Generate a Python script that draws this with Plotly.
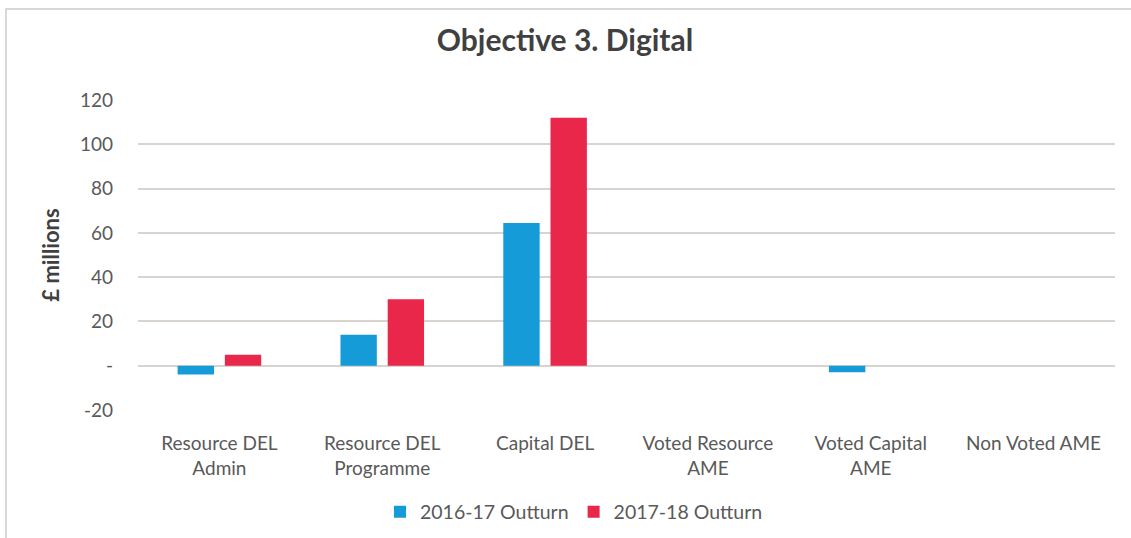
import plotly.graph_objects as go

# Spending categories and outturn values (£ millions)
categories = [
    "Resource DEL<br>Admin",
    "Resource DEL<br>Programme",
    "Capital DEL",
    "Voted Resource<br>AME",
    "Voted Capital<br>AME",
    "Non Voted AME",
]
outturn_2016_17 = [-4, 14, 64.5, 0, -3, 0]
outturn_2017_18 = [5, 30, 112, 0, 0, 0]
series_names = ["2016-17 Outturn", "2017-18 Outturn"]
tick_values = [-20, 0, 20, 40, 60, 80, 100, 120]
tick_labels = ["-20", "-", "20", "40", "60", "80", "100", "120"]

W, H = 1131, 538
L, R, T, B = 138, 16, 100, 128
FONT = "Lato, 'Open Sans', sans-serif"
GRID = "#d9d4d0"
TEXT = "#595959"

fig = go.Figure()
fig.add_trace(go.Bar(x=categories, y=outturn_2016_17, name=series_names[0],
                     marker=dict(color="#159bd7", line=dict(width=0))))
fig.add_trace(go.Bar(x=categories, y=outturn_2017_18, name=series_names[1],
                     marker=dict(color="#e8274b", line=dict(width=0))))

# outer chart border (left and top edges visible)
pw, ph = W - L - R, H - T - B
def px_x(v):
    return (v - L) / pw
def px_y(v):
    return (H - B - v) / ph

fig.add_shape(type="rect", xref="paper", yref="paper",
              x0=px_x(6), x1=px_x(1140), y0=px_y(545), y1=px_y(9),
              line=dict(color="#cfcac6", width=1.5), fillcolor="rgba(0,0,0,0)",
              layer="below")

fig.update_layout(
    width=W, height=H,
    margin=dict(l=L, r=R, t=T, b=B, autoexpand=False),
    paper_bgcolor="white", plot_bgcolor="white",
    barmode="group", bargap=0.42, bargroupgap=0.23,
    title=dict(text="<b>Objective 3. Digital</b>", x=565 / W, xanchor="center",
               y=1 - 40 / H, yanchor="middle",
               font=dict(family=FONT, size=30, color="#404040")),
    font=dict(family=FONT, color=TEXT),
    showlegend=True,
    legend=dict(orientation="h", x=px_x(574), xanchor="center",
                y=px_y(512), yanchor="middle",
                font=dict(family=FONT, size=19.5, color=TEXT),
                itemwidth=30, traceorder="normal"),
    xaxis=dict(showgrid=False, showline=False, ticks="", ticklabelstandoff=20,
               tickfont=dict(family=FONT, size=19, color=TEXT)),
    yaxis=dict(range=[-20, 120], tickvals=tick_values, ticktext=tick_labels,
               showgrid=True, gridcolor=GRID, gridwidth=1.5,
               zeroline=True, zerolinecolor=GRID, zerolinewidth=1.5,
               showline=False, ticks="", ticklabelstandoff=24,
               tickfont=dict(family=FONT, size=19, color=TEXT),
               title=dict(text="<b>£ millions</b>", standoff=14,
                          font=dict(family=FONT, size=22, color="#404040"))),
)

fig.write_html("out.html")
